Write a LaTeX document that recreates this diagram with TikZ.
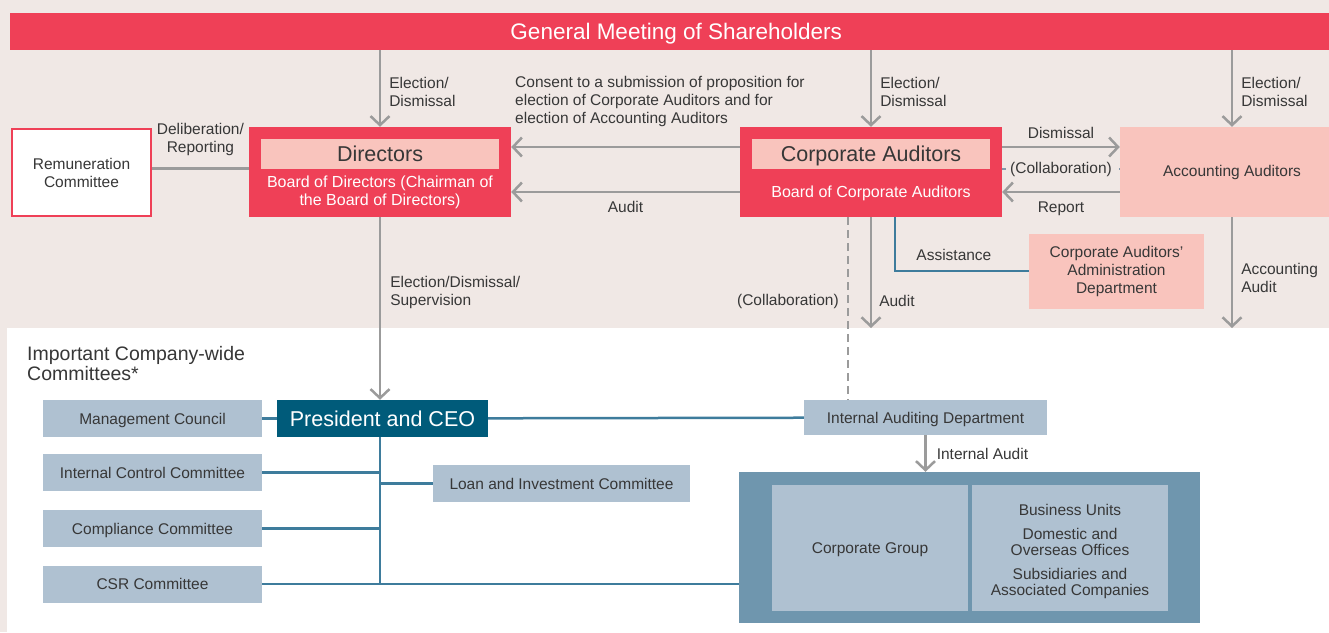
\documentclass[tikz,border=0pt]{standalone}
\usepackage{fontspec}
\setmainfont{Liberation Sans}
\usepackage{tikz}
\usetikzlibrary{arrows.meta,positioning}
\definecolor{gvred}{RGB}{239,64,87}
\definecolor{gvpink}{RGB}{249,196,189}
\definecolor{gvbg}{RGB}{240,232,229}
\definecolor{gvteal}{RGB}{0,91,122}
\definecolor{gvslate}{RGB}{175,193,209}
\definecolor{gvsteel}{RGB}{111,150,174}
\definecolor{gvline}{RGB}{62,124,156}
\definecolor{gvgray}{RGB}{155,155,155}
\definecolor{gvdash}{RGB}{130,152,170}
\definecolor{gvtext}{RGB}{55,55,55}
\tikzstyle{redbox} = [rectangle, fill=gvred, minimum width=262pt, minimum height=90pt, inner sep=0pt]
\tikzstyle{header} = [rectangle, fill=gvpink, minimum width=238pt, minimum height=30pt, inner sep=0pt, text depth=0pt, text=gvtext, font=\fontsize{21.5}{24}\selectfont]
\tikzstyle{subtext} = [text=white, align=center, inner sep=0pt, font=\fontsize{16}{18}\selectfont]
\tikzstyle{pinkbox} = [rectangle, fill=gvpink, inner sep=0pt, text=gvtext, align=center, font=\fontsize{15.5}{18}\selectfont]
\tikzstyle{slatebox} = [rectangle, fill=gvslate, minimum width=219pt, minimum height=37pt, inner sep=0pt, text depth=0pt, text=gvtext, align=center, font=\fontsize{15.5}{18}\selectfont]
\tikzstyle{note} = [text=gvtext, inner sep=0pt, font=\fontsize{15.5}{18}\selectfont]
\tikzstyle{arrow} = [line width=2.5pt, color=gvgray, -{Straight Barb[length=9pt,width=19pt]}]
\tikzstyle{plain} = [line width=2.5pt, color=gvgray]
\tikzstyle{link} = [line width=2.5pt, color=gvline]
\tikzstyle{collab} = [line width=2.5pt, color=gvgray, dash pattern=on 8pt off 5pt]

\begin{document}
\begin{tikzpicture}[x=1pt, y=-1pt]
\useasboundingbox (0,0) rectangle (1329,632);
\fill[gvbg] (0,0) rectangle (1329,632);
\fill[white] (7,328) rectangle (1329,632);

% shareholders and the two boards
\node (gm) [rectangle, fill=gvred, anchor=north west, minimum width=1332pt, minimum height=37pt, inner sep=0pt, text depth=0pt, text=white, font=\fontsize{22.5}{24}\selectfont] at (10,13) {General Meeting of Shareholders};

\node (dir) [redbox] at (380,172) {};
\node (dirhead) [header] at (380,154) {Directors};
\node (dirsub) [subtext] at (380,192.5) {Board of Directors (Chairman of\\the Board of Directors)};

\node (ca) [redbox] at (871,172) {};
\node (cahead) [header] at (871,154) {Corporate Auditors};
\node (casub) [subtext] at (871,193.5) {Board of Corporate Auditors};

\node (remun) [rectangle, fill=white, draw=gvred, line width=2pt, minimum width=139pt, minimum height=87pt, text=gvtext, align=center, font=\fontsize{15.5}{18}\selectfont] at (81.5,172.5) {Remuneration\\Committee};

\node (acc) [pinkbox, minimum width=224pt, minimum height=90pt] at (1232,172) {Accounting Auditors};
\node (adm) [pinkbox, minimum width=175pt, minimum height=75pt] at (1116.5,271) {Corporate Auditors'\\Administration\\Department};

\coordinate (caaudit) at (871,328);
\coordinate (accaudit) at (1232,328);

% executive side
\node (ceo) [rectangle, fill=gvteal, minimum width=211pt, minimum height=37pt, inner sep=0pt, text depth=0pt, text=white, font=\fontsize{21.5}{24}\selectfont] at (382.5,418.5) {President and CEO};
\node (mgmt) [slatebox] at (152.5,418.5) {Management Council};
\node (ictl) [slatebox] at (152.5,472.5) {Internal Control Committee};
\node (comp) [slatebox] at (152.5,528.5) {Compliance Committee};
\node (csr) [slatebox] at (152.5,584) {CSR Committee};
\node (loan) [slatebox, minimum width=257pt] at (561.5,483.5) {Loan and Investment Committee};
\node (iad) [slatebox, minimum width=243pt, minimum height=35pt] at (925.5,417.5) {Internal Auditing Department};

\node (wide) [note, anchor=north west, align=left, font=\fontsize{19.5}{20}\selectfont] at (27,346) {Important Company-wide\\Committees*};

\node (grp) [rectangle, fill=gvsteel, minimum width=461pt, minimum height=151pt] at (969.5,547.5) {};
\node (cg) [slatebox, minimum width=196pt, minimum height=126pt] at (870,548) {Corporate Group};
\node (units) [slatebox, minimum width=196pt, minimum height=126pt] at (1070,548) {};
\node (unitstext) [note, align=center, font=\fontsize{15.5}{16}\selectfont] at (1070,551.5) {Business Units\\[8pt]Domestic and\\Overseas Offices\\[8pt]Subsidiaries and\\Associated Companies};

\coordinate (spine) at (380,584);

% elections and reporting
\draw[arrow] (gm.south -| dir.north) -- node (l1) [note, right=8pt, pos=0.55, align=left] {Election/\\Dismissal} (dir.north);
\draw[arrow] (gm.south -| ca.north) -- node (l2) [note, right=8pt, pos=0.55, align=left] {Election/\\Dismissal} (ca.north);
\draw[arrow] (gm.south -| acc.north) -- node (l3) [note, right=8pt, pos=0.55, align=left] {Election/\\Dismissal} (acc.north);

\draw[arrow] ([yshift=25pt]ca.west) -- ([yshift=25pt]dir.east);
\node (l4) [note, anchor=north west, align=left] at (515,76) {Consent to a submission of proposition for\\election of Corporate Auditors and for\\election of Accounting Auditors};
\draw[arrow] ([yshift=-20pt]ca.west) -- node (l5) [note, below=8pt] {Audit} ([yshift=-20pt]dir.east);

\draw[plain] ([yshift=4pt]remun.east) -- node (l6) [note, above=12pt, align=center] {Deliberation/\\Reporting} ([yshift=4pt]remun.east -| dir.west);

\draw[arrow] ([yshift=25pt]ca.east) -- node (l7) [note, above=7pt] {Dismissal} ([yshift=25pt]acc.west);
\draw[collab, color=gvdash] ([yshift=3pt]ca.east) -- node (l8) [note, fill=gvbg, inner xsep=4pt] {(Collaboration)} ([yshift=3pt]acc.west);
\draw[arrow] ([yshift=-20pt]acc.west) -- node (l9) [note, below=9pt] {Report} ([yshift=-20pt]ca.east);

\draw[arrow] (dir.south) -- node (l10) [note, right=9pt, pos=0.41, align=left] {Election/Dismissal/\\Supervision} (dir.south |- ceo.north);
\draw[arrow] (ca.south) -- node (l11) [note, right=7pt, pos=0.76] {Audit} (caaudit);
\draw[arrow] (acc.south) -- node (l12) [note, right=8pt, pos=0.55, align=left] {Accounting\\Audit} (accaudit);
\draw[collab] ([xshift=-23pt]ca.south) -- node (l13) [note, left=8pt, pos=0.46] {(Collaboration)} ([xshift=-23pt]ca.south |- iad.north);
\draw[link] ([xshift=24pt]ca.south) |- node (l14) [note, pos=0.72, above=9pt] {Assistance} (adm.west);

% company-wide committees
\draw[link] (mgmt) -- (ceo);
\draw[link] (ceo) -- (iad);
\draw[link] (ceo.south -| spine) -- (spine);
\draw[link] (ictl) -- (ictl -| spine);
\draw[link] (comp) -- (comp -| spine);
\draw[link] (spine |- loan) -- (loan);
\draw[link] (csr) -- (csr -| grp.west);
\draw[arrow] (iad.south) -- node (l15) [note, right=10pt] {Internal Audit} (grp.north -| iad.south);
\end{tikzpicture}
\end{document}
